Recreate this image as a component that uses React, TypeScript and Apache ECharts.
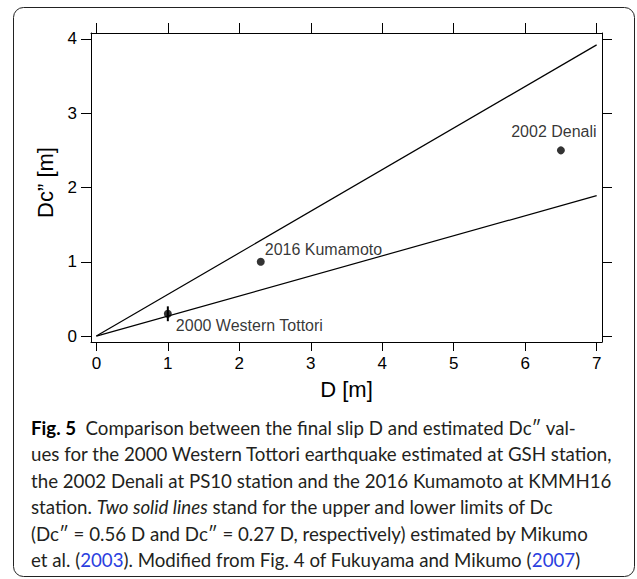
import React, { useEffect, useRef } from 'react';
import * as echarts from 'echarts';

// ---- data ----
const xTicks = [0, 1, 2, 3, 4, 5, 6, 7];
const yTicks = [0, 1, 2, 3, 4];
const eventNames = ['2000 Western Tottori', '2016 Kumamoto', '2002 Denali'];
const eventD = [1, 2.3, 6.5];
const eventDc = [0.3, 1.0, 2.5];
const tottoriErrLow = 0.2;
const tottoriErrHigh = 0.4;
const upperLimit = [[0, 0], [7, 3.92]]; // Dc'' = 0.56 D
const lowerLimit = [[0, 0], [7, 1.89]]; // Dc'' = 0.27 D
const xTitle = 'D [m]';
const yTitle = 'Dc\u201D [m]';

const captionLines = [
  '{b|Fig. 5}  Comparison between the final slip D and estimated Dc\u2033 val-',
  'ues for the 2000 Western Tottori earthquake estimated at GSH station,',
  'the 2002 Denali at PS10 station and the 2016 Kumamoto at KMMH16',
  'station. {i|Two solid lines} stand for the upper and lower limits of Dc',
  '(Dc\u2033 = 0.56 D and Dc\u2033 = 0.27 D, respectively) estimated by Mikumo',
  'et al. ({l|2003}). Modified from Fig. 4 of Fukuyama and Mikumo ({l|2007})',
];

export default function App() {
  const ref = useRef<HTMLDivElement>(null);

  useEffect(() => {
    const chart = echarts.init(ref.current!, null, { renderer: 'svg' });
    const font = '"Liberation Sans", Arial, Helvetica, sans-serif';
    const capFont = 'Lato, "Open Sans", sans-serif';
    const capSize = 18.7;

    const lineCfg = { show: true, onZero: false, lineStyle: { color: '#000', width: 1 } };
    const tickStyle = { color: '#000', width: 1 };

    const labelCfg = [
      { show: true, position: 'right', distance: 4, offset: [0, 12] },
      { show: true, position: 'right', distance: 0, offset: [0, -12] },
      { show: true, position: 'top', distance: 7, offset: [-7, 0] },
    ];

    const option: any = {
      animation: false,
      backgroundColor: '#fff',
      grid: { left: 91, right: 35, top: 33, bottom: 237 },
      xAxis: [
        {
          type: 'value',
          position: 'bottom',
          min: -0.075,
          max: 7.075,
          splitLine: { show: false },
          axisLine: lineCfg,
          axisTick: { show: true, inside: false, length: 9, customValues: xTicks, lineStyle: tickStyle },
          axisLabel: { show: true, customValues: xTicks, margin: 13, fontSize: 17, color: '#000', fontFamily: font },
          name: xTitle,
          nameLocation: 'middle',
          nameGap: 36,
          nameTextStyle: { fontSize: 22, color: '#000', fontFamily: font },
        },
        {
          type: 'value',
          position: 'top',
          min: -0.075,
          max: 7.075,
          splitLine: { show: false },
          axisLine: lineCfg,
          axisTick: { show: true, inside: false, length: 10, customValues: xTicks, lineStyle: tickStyle },
          axisLabel: { show: false },
        },
      ],
      yAxis: [
        {
          type: 'value',
          position: 'left',
          min: -0.08,
          max: 4.08,
          splitLine: { show: false },
          axisLine: lineCfg,
          axisTick: { show: true, inside: false, length: 10, customValues: yTicks, lineStyle: tickStyle },
          axisLabel: { show: true, customValues: yTicks, margin: 14, fontSize: 17, color: '#000', fontFamily: font },
          name: yTitle,
          nameLocation: 'middle',
          nameGap: 28,
          nameTextStyle: { fontSize: 22, color: '#000', fontFamily: font, padding: [0, 0, 0, 10] },
        },
        {
          type: 'value',
          position: 'right',
          min: -0.08,
          max: 4.08,
          splitLine: { show: false },
          axisLine: lineCfg,
          axisTick: { show: true, inside: false, length: 10, customValues: yTicks, lineStyle: tickStyle },
          axisLabel: { show: false },
        },
      ],
      series: [
        {
          type: 'line',
          data: upperLimit,
          symbol: 'none',
          lineStyle: { color: '#000', width: 1.2 },
          silent: true,
        },
        {
          type: 'line',
          data: lowerLimit,
          symbol: 'none',
          lineStyle: { color: '#000', width: 1.2 },
          silent: true,
        },
        {
          type: 'custom',
          data: [[eventD[0], tottoriErrLow, tottoriErrHigh]],
          renderItem: (params: any, api: any) => {
            const p0 = api.coord([api.value(0), api.value(1)]);
            const p1 = api.coord([api.value(0), api.value(2)]);
            return {
              type: 'line',
              shape: { x1: p0[0], y1: p0[1], x2: p1[0], y2: p1[1] },
              style: { stroke: '#000', lineWidth: 2 },
            };
          },
          z: 3,
        },
        {
          type: 'scatter',
          symbol: 'circle',
          symbolSize: 8,
          itemStyle: { color: '#000' },
          z: 4,
          label: { color: '#000', fontSize: 16, fontFamily: font, formatter: '{b}' },
          data: eventD.map((d, i) => ({
            name: eventNames[i],
            value: [d, eventDc[i]],
            label: { ...labelCfg[i], fontFamily: font, fontSize: 16, color: '#000' },
          })),
        },
      ],
      graphic: [
        {
          type: 'rect',
          shape: { x: 13.5, y: 7.5, width: 621, height: 569, r: 10 },
          style: { fill: 'none', stroke: '#222', lineWidth: 1 },
          silent: true,
        },
        ...captionLines.map((t, i) => ({
          type: 'text',
          x: 31,
          y: 428 + i * 26.4,
          style: {
            text: t,
            fill: '#231f20',
            fontSize: capSize,
            fontFamily: capFont,
            verticalAlign: 'middle',
            align: 'left',
            rich: {
              b: { fontSize: capSize, fontFamily: capFont, fontWeight: 'bold', fill: '#000' },
              i: { fontSize: capSize, fontFamily: capFont, fontStyle: 'italic', fill: '#231f20' },
              l: { fontSize: capSize, fontFamily: capFont, fill: '#2b3fe0' },
            },
          },
        })),
      ],
    };

    chart.setOption(option);
    return () => chart.dispose();
  }, []);

  return (
    <div
      ref={ref}
      style={{ position: 'fixed', left: 0, top: 0, width: 637, height: 579, background: '#fff' }}
    />
  );
}
